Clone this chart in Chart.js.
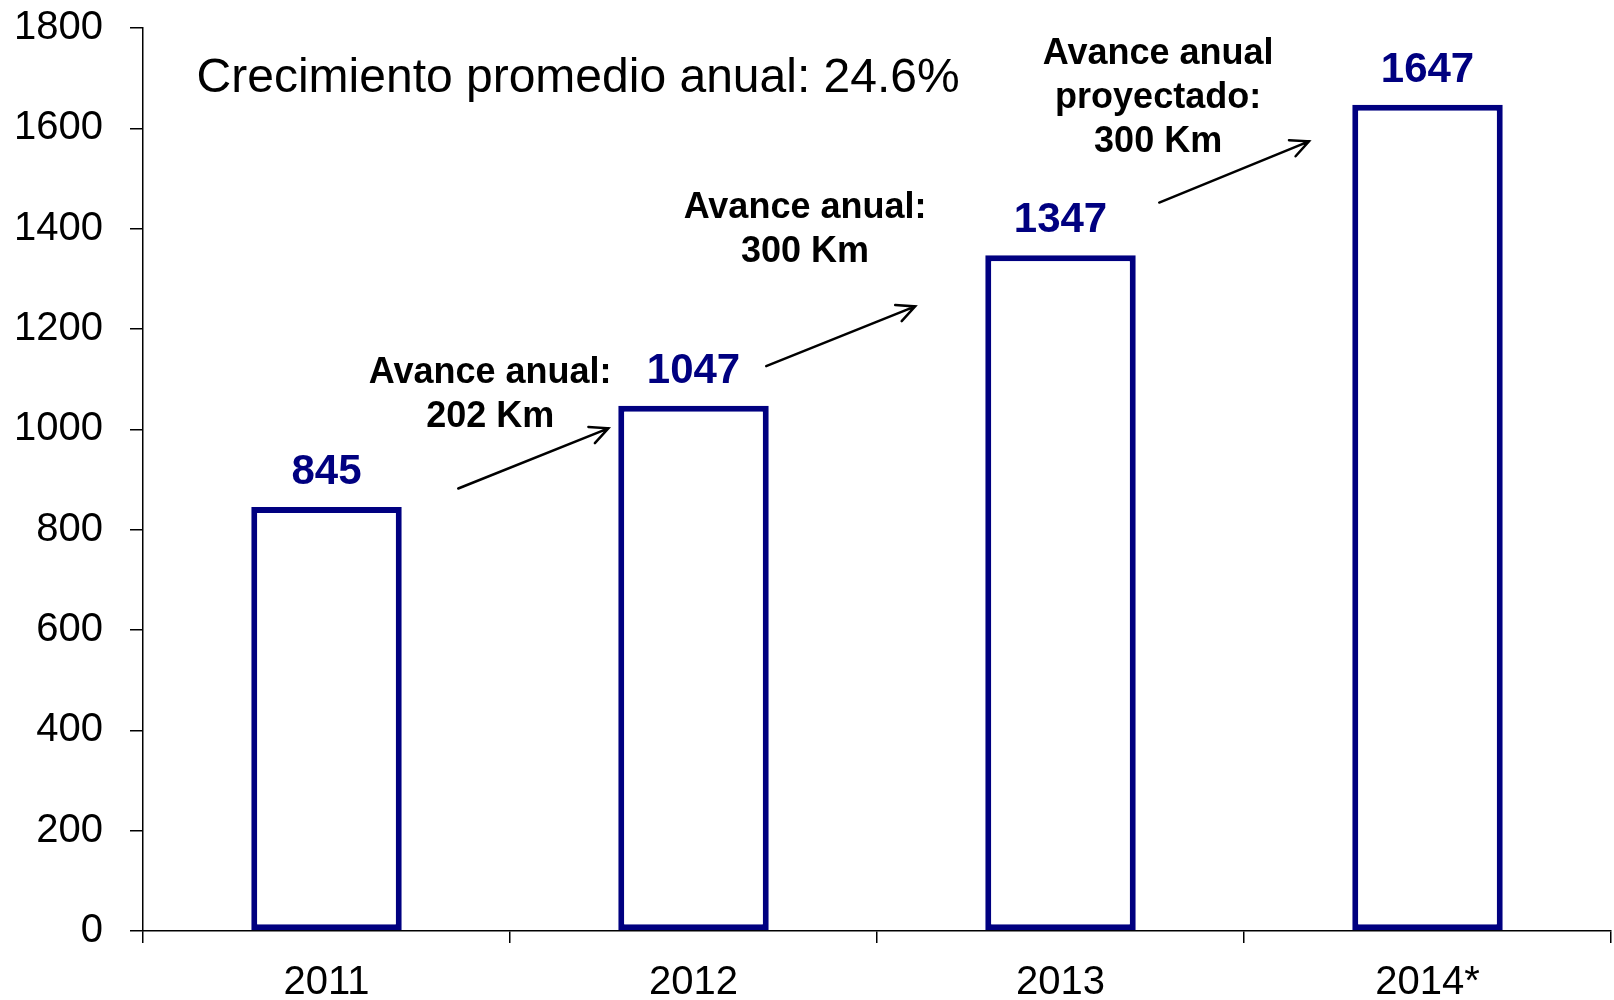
<!DOCTYPE html>
<html>
<head>
<meta charset="utf-8">
<script src="https://cdn.jsdelivr.net/npm/chart.js@4.4.1/dist/chart.umd.min.js"></script>
<style>
  html, body { margin: 0; padding: 0; background: #fff; }
  #wrap { width: 1614px; height: 1000px; }
</style>
</head>
<body>
<div id="wrap"><canvas id="chart" width="1614" height="1000"></canvas></div>
<script>
// chart data
const years = ['2011', '2012', '2013', '2014*'];
const kmValues = [845, 1047, 1347, 1647];
const yTicks = [0, 200, 400, 600, 800, 1000, 1200, 1400, 1600, 1800];

// annotations: text lines, anchor as [category position, value]
const avgText = 'Crecimiento promedio anual: 24.6%';
const avgAnchor = [-0.354, 1672];
const noteLines = [
    ['Avance anual:', '202 Km'],
    ['Avance anual:', '300 Km'],
    ['Avance anual', 'proyectado:', '300 Km']
];
const noteAnchors = [[0.446, 1092], [1.304, 1422], [2.266, 1729]];
const arrowStarts = [[0.359, 882], [1.198, 1126], [2.269, 1452]];
const arrowEnds = [[0.768, 1002], [1.604, 1245], [2.677, 1574]];

const navy = '#000080';
const font = "'Liberation Sans', Arial, sans-serif";

function catX(xScale, pos) {
    const step = xScale.getPixelForValue(1) - xScale.getPixelForValue(0);
    return xScale.getPixelForValue(0) + pos * step;
}

const labelsPlugin = {
    id: 'labels',
    afterDatasetsDraw(chart) {
        const ctx = chart.ctx;
        const xs = chart.scales.x;
        const ys = chart.scales.y;
        ctx.save();

        // value labels above bars
        ctx.fillStyle = navy;
        ctx.font = 'bold 42px ' + font;
        ctx.textAlign = 'center';
        ctx.textBaseline = 'alphabetic';
        kmValues.forEach((v, i) => {
            ctx.fillText(String(v), xs.getPixelForValue(i), ys.getPixelForValue(v) - 23);
        });

        // average growth text
        ctx.fillStyle = '#000';
        ctx.font = '48px ' + font;
        ctx.textAlign = 'left';
        ctx.fillText(avgText, catX(xs, avgAnchor[0]), ys.getPixelForValue(avgAnchor[1]));

        // notes
        ctx.font = 'bold 36px ' + font;
        ctx.textAlign = 'center';
        noteLines.forEach((lines, i) => {
            const x = catX(xs, noteAnchors[i][0]);
            const y = ys.getPixelForValue(noteAnchors[i][1]);
            lines.forEach((t, j) => ctx.fillText(t, x, y + j * 44));
        });

        // arrows
        ctx.strokeStyle = '#000';
        ctx.lineWidth = 2.5;
        ctx.lineCap = 'round';
        arrowStarts.forEach((s, i) => {
            const x1 = catX(xs, s[0]), y1 = ys.getPixelForValue(s[1]);
            const x2 = catX(xs, arrowEnds[i][0]), y2 = ys.getPixelForValue(arrowEnds[i][1]);
            const ang = Math.atan2(y2 - y1, x2 - x1);
            const head = 20;
            ctx.beginPath();
            ctx.moveTo(x1, y1);
            ctx.lineTo(x2, y2);
            ctx.moveTo(x2 - head * Math.cos(ang - 0.45), y2 - head * Math.sin(ang - 0.45));
            ctx.lineTo(x2, y2);
            ctx.lineTo(x2 - head * Math.cos(ang + 0.45), y2 - head * Math.sin(ang + 0.45));
            ctx.stroke();
        });

        ctx.restore();
    }
};

const ctx = document.getElementById('chart').getContext('2d');

new Chart(ctx, {
    type: 'bar',
    data: {
        labels: years,
        datasets: [{
            data: kmValues,
            backgroundColor: '#fff',
            borderColor: navy,
            borderWidth: 6,
            borderSkipped: false,
            categoryPercentage: 1,
            barPercentage: 0.41
        }]
    },
    options: {
        responsive: false,
        animation: false,
        layout: { padding: { top: 28, right: 3, left: 0, bottom: 0 } },
        plugins: {
            legend: { display: false },
            tooltip: { enabled: false }
        },
        scales: {
            x: {
                offset: true,
                grid: {
                    offset: true,
                    drawOnChartArea: false,
                    drawTicks: true,
                    tickLength: 12,
                    color: '#000',
                    lineWidth: 1.5
                },
                border: { display: true, color: '#000', width: 1.5 },
                ticks: {
                    color: '#000',
                    font: { family: font, size: 40 },
                    padding: 16,
                    maxRotation: 0
                },
                afterFit(scale) {
                    scale.height = 69;
                    scale.paddingLeft = 0;
                    scale.paddingRight = 0;
                }
            },
            y: {
                min: 0,
                max: 1800,
                afterBuildTicks(scale) {
                    scale.ticks = yTicks.map(v => ({ value: v }));
                },
                grid: {
                    drawOnChartArea: false,
                    drawTicks: true,
                    tickLength: 13,
                    color: '#000',
                    lineWidth: 1.5
                },
                border: { display: true, color: '#000', width: 1.5 },
                ticks: {
                    color: '#000',
                    font: { family: font, size: 40 },
                    padding: 27,
                    callback: v => String(v)
                },
                afterFit(scale) {
                    scale.width = 143;
                    scale.paddingTop = 0;
                    scale.paddingBottom = 0;
                }
            }
        }
    },
    plugins: [labelsPlugin]
});
</script>
</body>
</html>
